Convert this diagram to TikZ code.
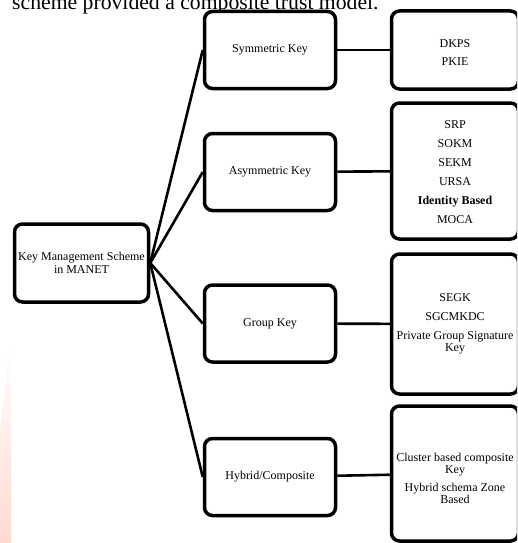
\documentclass[tikz,border=0pt]{standalone}
\usepackage{fontspec}
\setmainfont{Liberation Serif}
\definecolor{markpink}{RGB}{255,218,210}
\begin{document}
\begin{tikzpicture}
[x=1pt,y=-1pt,
  boxdecorate/.style={draw,line width=3.5pt,rounded corners=8pt,align=center,%
    fill=white,font=\fontsize{12}{13.5}\selectfont},
  leftdecorate/.style={boxdecorate,minimum width=134pt,minimum height=78pt},
  middecorate/.style={boxdecorate,minimum width=131pt,minimum height=77pt},
  rightdecorate/.style={boxdecorate,minimum width=127pt,inner sep=0pt},
  listtext/.style={align=center,inner sep=0pt,font=\fontsize{12}{12.5}\selectfont},
  arrowdecorate/.style={-,line width=2.6pt}]
\useasboundingbox (0,0) rectangle (517,543);
\clip (0,0) rectangle (517,543);
% page text and watermark
\node (pagetext) [anchor=base west,inner sep=0pt,font=\fontsize{21.7}{24}\selectfont]
  at (12,10) {scheme provided a composite trust model.};
\shade[top color=white,bottom color=markpink]
  (9,345) -- (11,345) -- (11,543) -- (0,543) -- (0,430) -- cycle;
% nodes or boxes
\node (kms) at (81.5,263) [leftdecorate] {Key Management Scheme\\in MANET};
\node (sym) at (270,50) [middecorate] {Symmetric Key};
\node (asym) at (270,172) [middecorate] {Asymmetric Key};
\node (group) at (270,323.5) [middecorate] {Group Key};
\node (hybrid) at (270,477) [middecorate] {Hybrid/Composite};
\node (symlist) at (455,50) [rightdecorate,minimum height=78pt] {};
\node (asymlist) at (455,171) [rightdecorate,minimum height=136pt] {};
\node (grouplist) at (455,324) [rightdecorate,minimum height=140pt] {};
\node (hybridlist) at (455,473.5) [rightdecorate,minimum height=135pt] {};
% texts of the right boxes
\node (symtext) at ([yshift=-2.5pt]symlist.center) [listtext]
  {DKPS\\[6pt]PKIE};
\node (asymtext) at ([yshift=-1pt]asymlist.center) [listtext]
  {SRP\\[6.5pt]SOKM\\[6.5pt]SEKM\\[6.5pt]URSA\\[6.5pt]\textbf{Identity Based}\\[6.5pt]MOCA};
\node (grouptext) at ([yshift=0pt]grouplist.center) [listtext]
  {SEGK\\[6.5pt]SGCMKDC\\[6.5pt]Private Group Signature\\Key};
\node (hybridtext) at ([yshift=-5pt]hybridlist.center) [listtext]
  {Cluster based composite\\Key\\[5pt]Hybrid schema Zone\\Based};
% edges or lines
\path
(kms.east) edge[arrowdecorate] node {} (sym.west)
(kms.east) edge[arrowdecorate] node {} (asym.west)
(kms.east) edge[arrowdecorate] node {} (group.west)
(kms.east) edge[arrowdecorate] node {} (hybrid.west)
(sym) edge[arrowdecorate] node {} (symlist)
(asym) edge[arrowdecorate] node {} (asymlist)
(group) edge[arrowdecorate] node {} (grouplist)
(hybrid) edge[arrowdecorate] node {} (hybridlist);
\end{tikzpicture}
\end{document}
